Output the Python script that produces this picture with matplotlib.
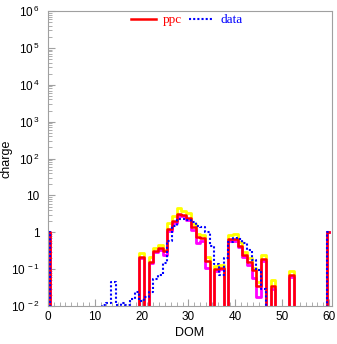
import matplotlib
matplotlib.use('Agg')
import matplotlib.pyplot as plt
import numpy as np
from matplotlib.ticker import FixedLocator, FixedFormatter, MultipleLocator, LogLocator, NullFormatter

plt.rcParams['font.family'] = ['Liberation Sans', 'DejaVu Sans']
plt.rcParams['mathtext.default'] = 'regular'

# DOM number 0..60
dom = np.arange(61)

# ppc simulation (red), with upper (yellow) and lower (magenta) envelope
ppc = np.zeros(61)
ppc[[0, 60]] = 1.0
ppc[20:35] = [0.21, 0, 0.16, 0.32, 0.37, 0.32, 1.26, 2.0, 3.1, 3.0, 2.5, 1.4, 0.75, 0.7, 0.17]
ppc[36:38] = [0.10, 0.11]
ppc[39:47] = [0.67, 0.67, 0.44, 0.24, 0.16, 0.093, 0.035, 0.19]
ppc[48] = 0.035
ppc[52] = 0.068

ppc_hi = np.zeros(61)
ppc_hi[[0, 60]] = 1.0
ppc_hi[20:35] = [0.27, 0, 0.21, 0.37, 0.45, 0.34, 1.75, 2.7, 4.5, 3.8, 3.4, 1.7, 0.9, 0.85, 0.21]
ppc_hi[36:38] = [0.12, 0.13]
ppc_hi[39:47] = [0.87, 0.9, 0.55, 0.3, 0.2, 0.11, 0.045, 0.24]
ppc_hi[48] = 0.05
ppc_hi[52] = 0.09

ppc_lo = np.zeros(61)
ppc_lo[[0, 60]] = 1.0
ppc_lo[20:35] = [0.2, 0, 0.15, 0.3, 0.34, 0.25, 1.1, 1.8, 2.8, 2.7, 2.1, 1.15, 0.5, 0.6, 0.11]
ppc_lo[36:38] = [0.09, 0.1]
ppc_lo[39:47] = [0.6, 0.6, 0.4, 0.21, 0.13, 0.057, 0.018, 0.17]
ppc_lo[48] = 0.03
ppc_lo[52] = 0.06

# measured data (blue dotted)
data = np.zeros(61)
data[[0, 60]] = 1.0
data[12:47] = [0.011, 0.012, 0.045, 0.0105, 0.012, 0.011, 0.016, 0.024, 0.014, 0.018,
               0.024, 0.056, 0.068, 0.15, 0.6, 1.5, 2.3, 2.3, 2.1, 1.9,
               1.5, 1.4, 1.0, 0.44, 0.14, 0.068, 0.2, 0.55, 0.69, 0.66,
               0.5, 0.33, 0.18, 0.093, 0.03]

decades = [-2, -1, 0, 1, 2, 3, 4, 5, 6]
ylabels = ['10$^{\\,-2}$', '10$^{\\,-1}$', '1', '10', '10$^{\\,2}$',
           '10$^{\\,3}$', '10$^{\\,4}$', '10$^{\\,5}$', '10$^{\\,6}$']

fig = plt.figure(figsize=(3.37, 3.44), dpi=100)
ax = fig.add_axes([0.142, 0.110, 0.843, 0.858])

ax.step(dom, ppc_hi, where='mid', color='#ffff00', lw=2.0)
ax.step(dom, ppc_lo, where='mid', color='#ff00ff', lw=2.0)
ax.step(dom, ppc, where='mid', color='#ff0000', lw=1.8, label='ppc')
ax.step(dom, data, where='mid', color='#0000ff', lw=1.5, ls=(0, (1, 1)), label='data')

ax.set_yscale('log')
ax.set_ylim(1e-2, 1e6)
ax.set_xlim(0, 60.6)

ax.yaxis.set_major_locator(FixedLocator([10.0 ** d for d in decades]))
ax.yaxis.set_major_formatter(FixedFormatter(ylabels))
ax.yaxis.set_minor_locator(LogLocator(base=10, subs=np.arange(2, 10)))
ax.yaxis.set_minor_formatter(NullFormatter())
ax.xaxis.set_major_locator(MultipleLocator(10))
ax.xaxis.set_minor_locator(MultipleLocator(1.25))

for s in ax.spines.values():
    s.set_color('#a0a0a0')
ax.tick_params(which='both', direction='in', color='#a0a0a0', labelsize=8.5)
ax.tick_params(which='major', length=5)
ax.tick_params(which='minor', length=3)
ax.tick_params(axis='y', pad=6)

ax.set_xlabel('DOM', fontsize=9, labelpad=3)
ax.set_ylabel('charge', fontsize=9)
ax.yaxis.set_label_coords(-0.125, 0.5)

leg = ax.legend(loc='upper center', bbox_to_anchor=(0.49, 1.03), ncol=2, frameon=False,
                prop={'family': 'Liberation Serif', 'size': 9.5},
                handlelength=1.9, handletextpad=0.5, columnspacing=0.5)
for t, c in zip(leg.get_texts(), ['#ff0000', '#0000ff']):
    t.set_color(c)

fig.savefig('out.png', dpi=100)
